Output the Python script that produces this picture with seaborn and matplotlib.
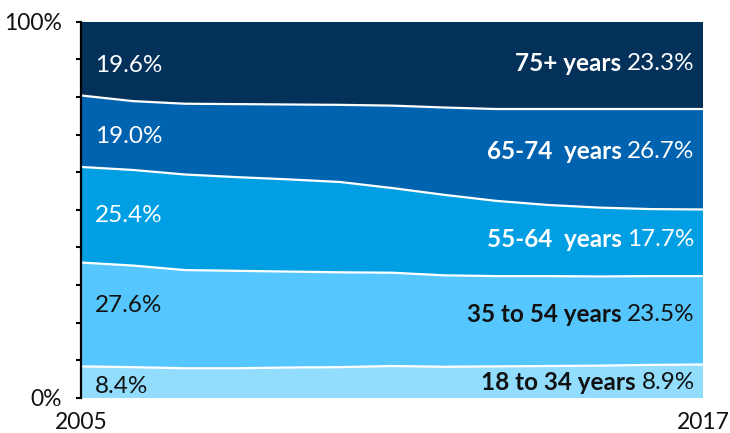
import numpy as np
import pandas as pd
import matplotlib
matplotlib.use("Agg")
import matplotlib.pyplot as plt
import seaborn as sns

# ---- data ----
years = list(range(2005, 2018))
age_18_34 = [8.4, 8.2, 7.9, 7.9, 8.1, 8.2, 8.5, 8.3, 8.4, 8.5, 8.6, 8.8, 8.9]
age_35_54 = [27.6, 27.0, 26.1, 25.9, 25.5, 25.2, 24.8, 24.3, 24.0, 23.9, 23.7, 23.6, 23.5]
age_55_64 = [25.4, 25.4, 25.4, 24.9, 24.5, 24.0, 22.5, 21.4, 20.0, 18.9, 18.3, 17.8, 17.7]
age_65_74 = [19.0, 18.3, 18.8, 19.4, 19.9, 20.5, 21.9, 23.2, 24.4, 25.5, 26.2, 26.6, 26.7]
age_75_plus = [19.6, 21.1, 21.8, 21.9, 22.0, 22.1, 22.3, 22.8, 23.2, 23.2, 23.2, 23.2, 23.3]
group_names = ["18 to 34 years", "35 to 54 years", "55-64  years", "65-74  years", "75+ years"]
y_tick_values = [0, 10, 20, 30, 40, 50, 60, 70, 80, 90, 100]
y_tick_labels = ["0%", "", "", "", "", "", "", "", "", "", "100%"]
x_tick_values = [2005, 2017]

series = [age_18_34, age_35_54, age_55_64, age_65_74, age_75_plus]

# ---- style ----
colors = ["#92DCFE", "#56C7FE", "#009FE3", "#0063B0", "#04315A"]
text_colors = ["#111111", "#111111", "white", "white", "white"]
left_label_y = [3.0, 24.7, 48.4, 69.4, 88.3]
right_label_y = [4.2, 22.1, 42.1, 65.5, 88.8]

sns.set_theme(style="white")
plt.rcParams["font.family"] = ["Lato", "DejaVu Sans"]

fig = plt.figure(figsize=(7.3, 4.33), dpi=100)
ax = fig.add_axes([81 / 730, (433 - 398) / 433, (703 - 81) / 730, (398 - 21.7) / 433])

df = pd.DataFrame({"year": years})
for name, vals in zip(group_names, series):
    df[name] = vals

ax.stackplot(df["year"], *[df[n] for n in group_names], colors=colors,
             linewidth=0, edgecolor="none", antialiased=True)

cum = np.cumsum(np.array(series), axis=0)
for i in range(len(series) - 1):
    sns.lineplot(x=df["year"], y=cum[i], ax=ax, color="white", linewidth=1.6)

ax.set_xlim(years[0], years[-1])
ax.set_ylim(0, 100)

# labels
for i, vals in enumerate(series):
    ax.annotate(f"{vals[0]:.1f}%", xy=(years[0], left_label_y[i]),
                xytext=(10, 0), textcoords="offset points",
                ha="left", va="center", fontsize=17.5, color=text_colors[i])
    pct = ax.annotate(f"{vals[-1]:.1f}%", xy=(years[-1], right_label_y[i]),
                      xytext=(-6, 0), textcoords="offset points",
                      ha="right", va="center", fontsize=17.5, color=text_colors[i])
    ax.annotate(group_names[i], xy=(0, 0.5), xycoords=pct,
                xytext=(-4, 0), textcoords="offset points",
                ha="right", va="center", fontsize=17.5, fontweight="bold",
                color=text_colors[i])

# axes styling
ax.set_yticks(y_tick_values)
ax.set_yticklabels(y_tick_labels)
ax.set_xticks(x_tick_values)
ax.set_xticklabels([str(v) for v in x_tick_values])
ax.tick_params(axis="y", direction="out", length=3.5, width=1.5, color="black",
               pad=10, labelsize=16.5, left=True, labelcolor="#111111")
ax.tick_params(axis="x", length=0, pad=10, labelsize=16.5, labelcolor="#111111")
for s in ["top", "right", "bottom"]:
    ax.spines[s].set_visible(False)
ax.spines["left"].set_color("black")
ax.spines["left"].set_linewidth(1.6)
ax.set_xlabel("")
ax.set_ylabel("")
ax.grid(False)

fig.savefig("out.png", dpi=100)
